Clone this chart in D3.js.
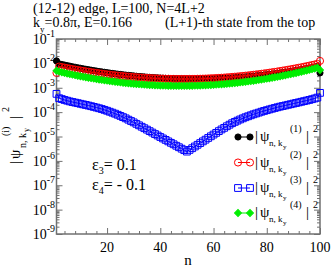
<!DOCTYPE html>
<html>
<head>
<meta charset="utf-8">
<script src="https://cdn.jsdelivr.net/npm/d3@7"></script>
<style>
  body { margin: 0; background: #fff; }
  svg { display: block; font-family: "Liberation Serif", "DejaVu Serif", serif; }
</style>
</head>
<body>
<svg id="chart" width="332" height="268"></svg>
<script>
// site index n = 1..100
var nValues = d3.range(1, 101);

// |psi_{n,ky}^{(1)}|^2  (black)
var psi1 = [1.26e-2, 9.53e-3, 9.02e-3, 8.53e-3, 8.09e-3, 7.69e-3, 7.29e-3, 6.93e-3, 6.61e-3, 6.30e-3,
            6.01e-3, 5.74e-3, 5.50e-3, 5.26e-3, 5.05e-3, 4.84e-3, 4.65e-3, 4.47e-3, 4.31e-3, 4.15e-3,
            4.00e-3, 3.86e-3, 3.74e-3, 3.61e-3, 3.51e-3, 3.40e-3, 3.30e-3, 3.21e-3, 3.13e-3, 3.05e-3,
            2.97e-3, 2.90e-3, 2.84e-3, 2.78e-3, 2.72e-3, 2.67e-3, 2.62e-3, 2.58e-3, 2.54e-3, 2.50e-3,
            2.47e-3, 2.44e-3, 2.41e-3, 2.38e-3, 2.36e-3, 2.34e-3, 2.33e-3, 2.31e-3, 2.30e-3, 2.30e-3,
            2.29e-3, 2.29e-3, 2.29e-3, 2.29e-3, 2.29e-3, 2.30e-3, 2.31e-3, 2.32e-3, 2.33e-3, 2.35e-3,
            2.37e-3, 2.39e-3, 2.42e-3, 2.44e-3, 2.48e-3, 2.51e-3, 2.55e-3, 2.59e-3, 2.64e-3, 2.69e-3,
            2.74e-3, 2.80e-3, 2.86e-3, 2.92e-3, 2.99e-3, 3.07e-3, 3.16e-3, 3.24e-3, 3.33e-3, 3.44e-3,
            3.54e-3, 3.65e-3, 3.78e-3, 3.90e-3, 4.05e-3, 4.19e-3, 4.35e-3, 4.52e-3, 4.70e-3, 4.90e-3,
            5.11e-3, 5.32e-3, 5.56e-3, 5.82e-3, 6.10e-3, 6.38e-3, 6.70e-3, 7.05e-3, 7.41e-3, 4.07e-3];

// |psi^{(2)}|^2  (red)
var psi2 = [4.07e-3, 7.41e-3, 7.05e-3, 6.70e-3, 6.38e-3, 6.10e-3, 5.82e-3, 5.56e-3, 5.32e-3, 5.11e-3,
            4.90e-3, 4.70e-3, 4.52e-3, 4.35e-3, 4.19e-3, 4.05e-3, 3.90e-3, 3.78e-3, 3.65e-3, 3.54e-3,
            3.44e-3, 3.33e-3, 3.24e-3, 3.16e-3, 3.07e-3, 2.99e-3, 2.92e-3, 2.86e-3, 2.80e-3, 2.74e-3,
            2.69e-3, 2.64e-3, 2.59e-3, 2.55e-3, 2.51e-3, 2.48e-3, 2.44e-3, 2.42e-3, 2.39e-3, 2.37e-3,
            2.35e-3, 2.33e-3, 2.32e-3, 2.31e-3, 2.30e-3, 2.29e-3, 2.29e-3, 2.29e-3, 2.29e-3, 2.29e-3,
            2.30e-3, 2.30e-3, 2.31e-3, 2.33e-3, 2.34e-3, 2.36e-3, 2.38e-3, 2.41e-3, 2.44e-3, 2.47e-3,
            2.50e-3, 2.54e-3, 2.58e-3, 2.62e-3, 2.67e-3, 2.72e-3, 2.78e-3, 2.84e-3, 2.90e-3, 2.97e-3,
            3.05e-3, 3.13e-3, 3.21e-3, 3.30e-3, 3.40e-3, 3.51e-3, 3.61e-3, 3.74e-3, 3.86e-3, 4.00e-3,
            4.15e-3, 4.31e-3, 4.47e-3, 4.65e-3, 4.84e-3, 5.05e-3, 5.26e-3, 5.50e-3, 5.74e-3, 6.01e-3,
            6.30e-3, 6.61e-3, 6.93e-3, 7.29e-3, 7.69e-3, 8.09e-3, 8.53e-3, 9.02e-3, 9.53e-3, 1.26e-2];

// |psi^{(3)}|^2  (blue)
var psi3 = [5.62e-4, 3.72e-4, 3.43e-4, 3.16e-4, 2.95e-4, 2.75e-4, 2.60e-4, 2.46e-4, 2.33e-4, 2.20e-4,
            2.08e-4, 1.97e-4, 1.86e-4, 1.75e-4, 1.64e-4, 1.54e-4, 1.44e-4, 1.34e-4, 1.24e-4, 1.14e-4,
            1.04e-4, 9.51e-5, 8.63e-5, 7.80e-5, 7.00e-5, 6.24e-5, 5.56e-5, 4.90e-5, 4.32e-5, 3.80e-5,
            3.31e-5, 2.88e-5, 2.51e-5, 2.19e-5, 1.91e-5, 1.66e-5, 1.45e-5, 1.26e-5, 1.10e-5, 9.55e-6,
            8.32e-6, 7.24e-6, 6.31e-6, 5.50e-6, 4.79e-6, 4.17e-6, 3.63e-6, 3.16e-6, 2.75e-6, 2.40e-6,
            2.82e-6, 3.31e-6, 3.89e-6, 4.57e-6, 5.37e-6, 6.31e-6, 7.41e-6, 8.71e-6, 1.02e-5, 1.20e-5,
            1.41e-5, 1.66e-5, 1.95e-5, 2.26e-5, 2.63e-5, 3.05e-5, 3.51e-5, 3.98e-5, 4.47e-5, 5.01e-5,
            5.56e-5, 6.17e-5, 6.76e-5, 7.41e-5, 8.13e-5, 8.81e-5, 9.55e-5, 1.04e-4, 1.12e-4, 1.20e-4,
            1.29e-4, 1.38e-4, 1.48e-4, 1.58e-4, 1.68e-4, 1.78e-4, 1.88e-4, 2.00e-4, 2.11e-4, 2.24e-4,
            2.37e-4, 2.51e-4, 2.66e-4, 2.82e-4, 2.99e-4, 3.16e-4, 3.39e-4, 3.63e-4, 3.94e-4, 6.17e-4];

// |psi^{(4)}|^2  (green)
var psi4 = [5.01e-3, 4.56e-3, 4.30e-3, 4.06e-3, 3.85e-3, 3.64e-3, 3.45e-3, 3.28e-3, 3.12e-3, 2.96e-3,
            2.83e-3, 2.70e-3, 2.58e-3, 2.47e-3, 2.37e-3, 2.27e-3, 2.18e-3, 2.10e-3, 2.02e-3, 1.95e-3,
            1.88e-3, 1.82e-3, 1.76e-3, 1.71e-3, 1.66e-3, 1.61e-3, 1.57e-3, 1.53e-3, 1.49e-3, 1.46e-3,
            1.43e-3, 1.40e-3, 1.37e-3, 1.35e-3, 1.32e-3, 1.30e-3, 1.29e-3, 1.27e-3, 1.25e-3, 1.24e-3,
            1.23e-3, 1.22e-3, 1.21e-3, 1.21e-3, 1.20e-3, 1.20e-3, 1.20e-3, 1.20e-3, 1.20e-3, 1.20e-3,
            1.21e-3, 1.21e-3, 1.22e-3, 1.23e-3, 1.24e-3, 1.25e-3, 1.27e-3, 1.28e-3, 1.30e-3, 1.32e-3,
            1.34e-3, 1.37e-3, 1.39e-3, 1.42e-3, 1.46e-3, 1.49e-3, 1.52e-3, 1.57e-3, 1.61e-3, 1.66e-3,
            1.70e-3, 1.76e-3, 1.82e-3, 1.87e-3, 1.94e-3, 2.01e-3, 2.09e-3, 2.17e-3, 2.26e-3, 2.36e-3,
            2.46e-3, 2.57e-3, 2.69e-3, 2.81e-3, 2.95e-3, 3.10e-3, 3.26e-3, 3.44e-3, 3.61e-3, 3.82e-3,
            4.04e-3, 4.28e-3, 4.53e-3, 4.81e-3, 5.11e-3, 5.43e-3, 5.78e-3, 6.17e-3, 6.59e-3, 5.37e-3];

var seriesLabels = ["(1)", "(2)", "(3)", "(4)"];
var xTickValues = [20, 40, 60, 80, 100];
var yTickValues = [1e-1, 1e-2, 1e-3, 1e-4, 1e-5, 1e-6, 1e-7, 1e-8, 1e-9];
var yTickExps = ["-1", "-2", "-3", "-4", "-5", "-6", "-7", "-8", "-9"];
var epsLabels = [["3", "= 0.1"], ["4", "= - 0.1"]];

var svg = d3.select("#chart");
var frameColor = "#707070";

var x = d3.scaleLinear().domain([1, 100]).range([56.5, 320]);
var y = d3.scaleLog().domain([1e-9, 1e-1]).range([234, 39]);

// minor ticks
var xMinor = d3.range(4, 100, 4).filter(function(d) { return d % 20 != 0; });
var yMinor = [];
d3.range(-9, -1).forEach(function(k) {
  d3.range(2, 10).forEach(function(m) { yMinor.push(m * Math.pow(10, k)); });
});

function tidy(g) {
  g.select(".domain").remove();
  g.selectAll("line").attr("stroke", frameColor).attr("stroke-width", 1);
}

// ticks pointing inward, mirrored on all four sides
svg.append("g").attr("transform", "translate(56.5,0)")
  .call(d3.axisLeft(y).tickValues(yTickValues).tickSize(-6).tickFormat("")).call(tidy);
svg.append("g").attr("transform", "translate(56.5,0)")
  .call(d3.axisLeft(y).tickValues(yMinor).tickSize(-3).tickFormat("")).call(tidy);
svg.append("g").attr("transform", "translate(320,0)")
  .call(d3.axisRight(y).tickValues(yTickValues).tickSize(-6).tickFormat("")).call(tidy);
svg.append("g").attr("transform", "translate(320,0)")
  .call(d3.axisRight(y).tickValues(yMinor).tickSize(-3).tickFormat("")).call(tidy);
svg.append("g").attr("transform", "translate(0,234)")
  .call(d3.axisBottom(x).tickValues(xTickValues).tickSize(-6).tickFormat("")).call(tidy);
svg.append("g").attr("transform", "translate(0,234)")
  .call(d3.axisBottom(x).tickValues(xMinor).tickSize(-3).tickFormat("")).call(tidy);
svg.append("g").attr("transform", "translate(0,39)")
  .call(d3.axisTop(x).tickValues(xTickValues).tickSize(-6).tickFormat("")).call(tidy);
svg.append("g").attr("transform", "translate(0,39)")
  .call(d3.axisTop(x).tickValues(xMinor).tickSize(-3).tickFormat("")).call(tidy);

svg.append("rect")
  .attr("x", 56.5).attr("y", 39).attr("width", 320 - 56.5).attr("height", 234 - 39)
  .attr("fill", "none").attr("stroke", frameColor).attr("stroke-width", 1.5);

// tick labels
svg.selectAll(".xlab").data(xTickValues).enter().append("text")
  .attr("x", function(d) { return x(d); }).attr("y", 252)
  .attr("text-anchor", "middle").attr("font-size", 14)
  .text(function(d) { return d; });

var yl = svg.selectAll(".ylab").data(yTickValues).enter().append("text")
  .attr("x", 55).attr("y", function(d) { return y(d) + 5; })
  .attr("text-anchor", "end").attr("font-size", 14);
yl.append("tspan").text("10");
yl.append("tspan").attr("dy", -7).attr("font-size", 10)
  .text(function(d, i) { return yTickExps[i]; });

svg.append("text").attr("x", 188).attr("y", 265).attr("text-anchor", "middle")
  .attr("font-size", 15).text("n");

// title lines
svg.append("text").attr("x", 33).attr("y", 13).attr("font-size", 14)
  .text("(12-12) edge, L=100, N=4L+2");
var t2 = svg.append("text").attr("x", 33).attr("y", 27).attr("font-size", 14);
t2.append("tspan").text("k");
t2.append("tspan").attr("dy", 5).attr("font-size", 9).text("y");
t2.append("tspan").attr("dy", -5).text("=0.8\u03c0, E=0.166");
svg.append("text").attr("x", 165).attr("y", 27).attr("font-size", 14)
  .text("(L+1)-th state from the top");

// y axis label |psi_{n,ky}^{(i)}|^2 (rotated)
var ylab = svg.append("text").attr("transform", "translate(20,164) rotate(-90)").attr("font-size", 15);
ylab.append("tspan").attr("x", 0).attr("y", 0).text("|");
ylab.append("tspan").attr("x", 5).attr("y", 0).text("\u03c8");
ylab.append("tspan").attr("x", 16).attr("y", 6).attr("font-size", 10).text("n, k");
ylab.append("tspan").attr("x", 32).attr("y", 9).attr("font-size", 8).text("y");
ylab.append("tspan").attr("x", 28).attr("y", -11).attr("font-size", 10).text("(i)");
ylab.append("tspan").attr("x", 45).attr("y", 0).text("|");
ylab.append("tspan").attr("x", 52).attr("y", -11).attr("font-size", 10).text("2");

// epsilon annotations
epsLabels.forEach(function(e, i) {
  var t = svg.append("text").attr("x", 92).attr("y", 170 + i * 20).attr("font-size", 16);
  t.append("tspan").text("\u03b5");
  t.append("tspan").attr("dy", 4).attr("font-size", 10).text(e[0]);
  t.append("tspan").attr("dy", -4).text(e[1]);
});

// series
var series = [
  { values: psi1, color: "#000000", shape: d3.symbolCircle, size: 30, fill: true, rot: 0 },
  { values: psi2, color: "#ff0000", shape: d3.symbolCircle, size: 40, fill: false, rot: 0 },
  { values: psi3, color: "#0000ff", shape: d3.symbolSquare, size: 46, fill: false, rot: 0 },
  { values: psi4, color: "#00ee00", shape: d3.symbolSquare, size: 24, fill: true, rot: 45 }
];

var line = d3.line()
  .x(function(d) { return x(d[0]); })
  .y(function(d) { return y(d[1]); });

function markers(g, s) {
  g.attr("d", d3.symbol().type(s.shape).size(s.size))
   .attr("fill", s.fill ? s.color : "none")
   .attr("stroke", s.color)
   .attr("stroke-width", 1);
}

series.forEach(function(s) {
  var pts = nValues.map(function(n, i) { return [n, s.values[i]]; });
  svg.append("path").datum(pts)
    .attr("d", line).attr("fill", "none").attr("stroke", s.color).attr("stroke-width", 1);
  svg.append("g").selectAll("path").data(pts).enter().append("path")
    .attr("transform", function(d) { return "translate(" + x(d[0]) + "," + y(d[1]) + ") rotate(" + s.rot + ")"; })
    .call(markers, s);
});

// legend
var legendY = [137, 162.5, 188, 213];
series.forEach(function(s, i) {
  var ly = legendY[i];
  svg.append("line").attr("x1", 238).attr("x2", 250).attr("y1", ly).attr("y2", ly)
    .attr("stroke", s.color).attr("stroke-width", 1);
  svg.append("g").selectAll("path").data([238, 250]).enter().append("path")
    .attr("transform", function(d) { return "translate(" + d + "," + ly + ") rotate(" + s.rot + ")"; })
    .call(markers, s);
  var t = svg.append("text").attr("font-size", 15);
  t.append("tspan").attr("x", 255).attr("y", ly + 4).text("|");
  t.append("tspan").attr("x", 260).attr("y", ly + 4).text("\u03c8");
  t.append("tspan").attr("x", 269).attr("y", ly + 9).attr("font-size", 9).text("n, k");
  t.append("tspan").attr("x", 283).attr("y", ly + 12).attr("font-size", 7).text("y");
  t.append("tspan").attr("x", 290).attr("y", ly - 5).attr("font-size", 10).text(seriesLabels[i]);
  t.append("tspan").attr("x", 306).attr("y", ly + 4).text("|");
  t.append("tspan").attr("x", 313).attr("y", ly - 5).attr("font-size", 10).text("2");
});
</script>
</body>
</html>
